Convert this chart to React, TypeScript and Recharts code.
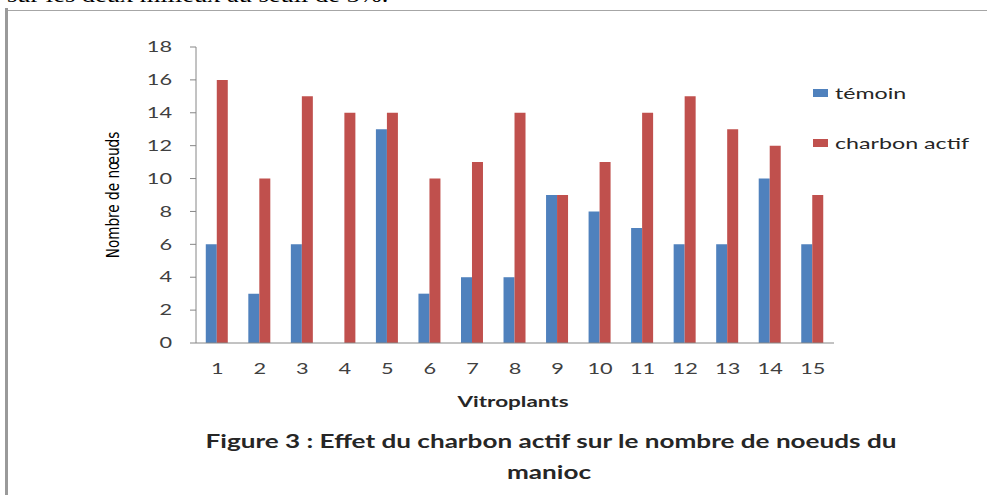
import { BarChart, Bar, XAxis, YAxis } from 'recharts';

const categories = ['1', '2', '3', '4', '5', '6', '7', '8', '9', '10', '11', '12', '13', '14', '15'];
const temoin = [6, 3, 6, 0, 13, 3, 4, 4, 9, 8, 7, 6, 6, 10, 6];
const charbonActif = [16, 10, 15, 14, 14, 10, 11, 14, 9, 11, 14, 15, 13, 12, 9];
const yTicks = [0, 2, 4, 6, 8, 10, 12, 14, 16, 18];

const BLUE = '#4F81BD';
const RED = '#C0504D';
const FONT = 'Lato, "Open Sans", sans-serif';
const STRETCH = 1.45;

const data = categories.map((c, i) => ({ name: c, temoin: temoin[i], charbon: charbonActif[i] }));

// stretched tick text, the source picture is widened horizontally
const XTick = (props: any) => {
    const { x, y, payload } = props;
    return (
        <text transform={`translate(${x},${y}) scale(${STRETCH},1)`} textAnchor="middle" dy="0.35em"
            fontFamily={FONT} fontSize={15} fill="#404040">
            {payload.value}
        </text>
    );
};

const YTick = (props: any) => {
    const { x, y, payload } = props;
    return (
        <text transform={`translate(${x},${y}) scale(${STRETCH},1)`} textAnchor="end" dy="0.35em"
            fontFamily={FONT} fontSize={15} fill="#404040">
            {payload.value}
        </text>
    );
};

const Stretched = ({ left, top, size, bold, children }: any) => (
    <div style={{
        position: 'absolute', left, top, whiteSpace: 'nowrap', lineHeight: 1,
        fontFamily: FONT, fontSize: size, fontWeight: bold ? 700 : 400, color: '#262626',
        transform: `translateX(-50%) scaleX(${STRETCH})`,
    }}>
        {children}
    </div>
);

export default function App() {
    return (
        <div style={{ position: 'absolute', left: 0, top: 0, width: 987, height: 495, overflow: 'hidden', background: '#fff' }}>
            {/* text of the page above the figure, cut off */}
            <div style={{
                position: 'absolute', left: 7, top: -16, whiteSpace: 'nowrap', lineHeight: 1,
                fontFamily: '"Liberation Serif", serif', fontSize: 22, color: '#000',
                transform: 'scaleX(1.2)', transformOrigin: 'left top',
            }}>
                sur les deux milieux au seuil de 5%.
            </div>
            {/* frame */}
            <div style={{ position: 'absolute', left: 8, top: 10, width: 979, height: 1, background: '#a6a6a6' }} />
            <div style={{ position: 'absolute', left: 5, top: 8, width: 3, height: 487, background: '#9a9a9a' }} />

            <div style={{ position: 'absolute', left: 0, top: 0 }}>
                <BarChart width={987} height={495} data={data}
                    margin={{ top: 47, right: 153, bottom: 122, left: 136 }}
                    barCategoryGap="23%" barGap={0}>
                    <XAxis dataKey="name" height={30} stroke="#868686" tickLine={false} tickSize={0}
                        tickMargin={26} tick={<XTick />} />
                    <YAxis width={60} domain={[0, 18]} ticks={yTicks} stroke="#868686" tickSize={6}
                        tickMargin={18} tick={<YTick />} interval={0} />
                    <Bar dataKey="temoin" name="témoin" fill={BLUE} isAnimationActive={false} />
                    <Bar dataKey="charbon" name="charbon actif" fill={RED} isAnimationActive={false} />
                </BarChart>
            </div>

            {/* y axis title */}
            <div style={{
                position: 'absolute', left: 113, top: 195, whiteSpace: 'nowrap', lineHeight: 1,
                fontFamily: '"Liberation Sans Narrow", "DejaVu Sans Condensed", sans-serif', fontSize: 18,
                color: '#000', transform: 'translate(-50%, -50%) rotate(-90deg) scaleX(0.84)',
            }}>
                Nombre de nœuds
            </div>

            {/* legend */}
            <div style={{ position: 'absolute', left: 813, top: 89, width: 15, height: 8, background: BLUE }} />
            <div style={{ position: 'absolute', left: 835, top: 85, whiteSpace: 'nowrap', lineHeight: 1, fontFamily: FONT, fontSize: 16, color: '#262626', transform: `scaleX(${STRETCH})`, transformOrigin: 'left top' }}>témoin</div>
            <div style={{ position: 'absolute', left: 813, top: 139, width: 15, height: 8, background: RED }} />
            <div style={{ position: 'absolute', left: 835, top: 135, whiteSpace: 'nowrap', lineHeight: 1, fontFamily: FONT, fontSize: 16, color: '#262626', transform: `scaleX(${STRETCH})`, transformOrigin: 'left top' }}>charbon actif</div>

            <Stretched left={513} top={394} size={15.5} bold>Vitroplants</Stretched>
            <Stretched left={551} top={432} size={18} bold>Figure 3 : Effet du charbon actif sur le nombre de noeuds du</Stretched>
            <Stretched left={549} top={463} size={18} bold>manioc</Stretched>
        </div>
    );
}
